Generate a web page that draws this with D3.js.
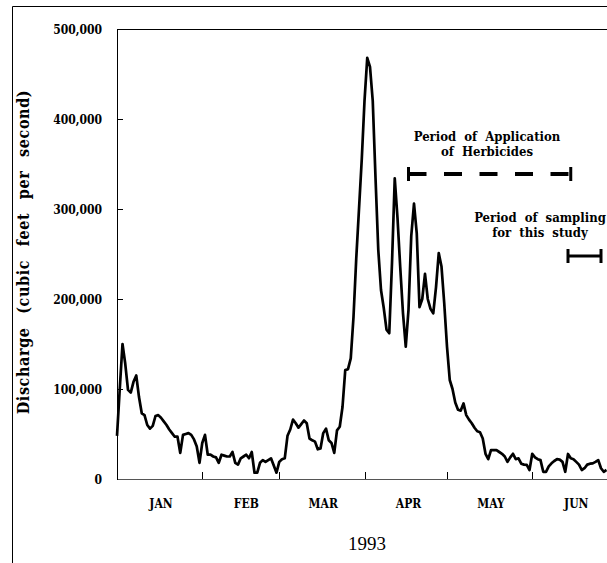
<!DOCTYPE html>
<html>
    <head>
        <meta charset="utf-8">
        <title>Discharge 1993</title>
        <script src="https://d3js.org/d3.v7.min.js"></script>
        <style>
            body { margin: 0; background: #fff; }
            text { font-family: "Liberation Serif", "Times New Roman", serif; fill: #000; }
            text.bold { font-family: "DejaVu Serif", serif; font-stretch: condensed; font-weight: bold; }
            .flow { fill: none; stroke: #000; stroke-width: 2.7px; stroke-linejoin: round; }
            .axis path, .axis line { stroke: #000; shape-rendering: crispEdges; }
            .xaxis path { stroke: #555; }
        </style>
    </head>
    <body>
        <script>
            // daily discharge, starting 1 Jan 1993 (cubic feet per second)
            const startDay = new Date(1993, 0, 1);
            const flow = [
                48000, 100000, 150000, 128000, 99000, 96000, 108000, 115000, 91000, 73000,
                71000, 60000, 56000, 59000, 70000, 71000, 68000, 64000, 60000, 55000,
                51000, 47000, 47000, 29000, 49000, 50000, 51000, 49000, 44000, 36000,
                18000, 40000, 49000, 27000, 27000, 25000, 24000, 18000, 27000, 26000,
                25000, 25000, 30000, 18000, 16000, 23000, 25000, 27000, 23000, 30000,
                7000, 7000, 18000, 21000, 19000, 21000, 23000, 15000, 7000, 19000,
                22000, 23000, 48000, 55000, 66000, 62000, 57000, 61000, 65000, 62000,
                45000, 43000, 41500, 33000, 34000, 51000, 56000, 43000, 40000, 29000,
                54000, 58000, 80000, 121000, 122000, 134000, 180000, 245000, 300000, 355000,
                420000, 468000, 458000, 420000, 335000, 255000, 210000, 190000, 166000, 162000,
                240000, 334000, 290000, 235000, 184000, 147000, 188000, 270000, 306000, 273000,
                191000, 200000, 228000, 200000, 189000, 184000, 213000, 251000, 236000, 195000,
                147000, 110000, 100000, 85000, 77000, 76000, 84000, 71000, 66000, 62000,
                57000, 53000, 52000, 45000, 28000, 22000, 32000, 32000, 32000, 30000,
                28000, 25000, 19000, 24000, 28000, 22000, 23000, 17000, 16000, 15600,
                10000, 28000, 24000, 22000, 21000, 8000, 8000, 14000, 17400, 20000,
                22000, 21500, 19000, 8000, 27800, 23000, 22000, 19000, 16000, 10000,
                12000, 16000, 17000, 17400, 19000, 21000, 12000, 8000, 10000
            ];
            const yTicks = [0, 100000, 200000, 300000, 400000, 500000];
            const monthLabels = ["JAN", "FEB", "MAR", "APR", "MAY", "JUN"];
            const yearLabel = "1993";
            const yTitle = "Discharge (cubic feet per second)";
            const herbicidePeriod = [new Date(1993, 3, 17), new Date(1993, 5, 15)];
            const samplingPeriod = [new Date(1993, 5, 14), new Date(1993, 5, 26)];

            var width = 607;
            var height = 563;

            var svg = d3.select("body").append("svg")
                .attr("width", width)
                .attr("height", height);

            // outer frame (left and top edges)
            svg.append("path")
                .attr("d", "M12.5,563 V6.5 H607")
                .attr("fill", "none")
                .attr("stroke", "#000")
                .attr("stroke-width", 1);

            let xScale = d3.scaleTime()
                .domain([startDay, new Date(1993, 6, 1)])
                .range([117, 614.75]);
            let yScale = d3.scaleLinear()
                .domain([0, 500000])
                .range([479, 29]);

            var plot = svg.append("g");

            // top edge of the plot box
            plot.append("line")
                .attr("x1", 117).attr("x2", width)
                .attr("y1", yScale(500000) + 0.5).attr("y2", yScale(500000) + 0.5)
                .attr("stroke", "#000");

            // y axis, ticks pointing into the plot
            var yAxis = plot.append("g")
                .attr("class", "axis")
                .attr("transform", "translate(117,0)")
                .call(d3.axisLeft(yScale)
                    .tickValues(yTicks)
                    .tickSizeInner(-6)
                    .tickSizeOuter(0)
                    .tickPadding(15)
                    .tickFormat(d3.format(",")));
            yAxis.selectAll("text")
                .attr("class", "bold")
                .style("font-size", "12px")
                .attr("dy", "0.4em");

            // x axis, month ticks pointing up
            var months = d3.timeMonth.range(new Date(1993, 1, 1), new Date(1993, 6, 1));
            plot.append("g")
                .attr("class", "axis xaxis")
                .attr("transform", "translate(0,479)")
                .call(d3.axisBottom(xScale)
                    .tickValues(months)
                    .tickSizeInner(-7)
                    .tickSizeOuter(0)
                    .tickFormat(""));

            plot.selectAll(".month")
                .data(monthLabels)
                .enter().append("text")
                .attr("class", "month bold")
                .attr("x", function (d, i) { return xScale(new Date(1993, i, 17)); })
                .attr("y", 508)
                .attr("text-anchor", "middle")
                .style("font-size", "12px")
                .text(function (d) { return d; });

            svg.append("text")
                .attr("x", 367)
                .attr("y", 550)
                .attr("text-anchor", "middle")
                .style("font-size", "19px")
                .text(yearLabel);

            svg.append("text")
                .attr("class", "bold")
                .attr("transform", "translate(29,252) rotate(-90)")
                .attr("text-anchor", "middle")
                .style("font-size", "16px")
                .style("letter-spacing", "0.6px")
                .style("word-spacing", "8px")
                .text(yTitle);

            // discharge line
            var line = d3.line()
                .x(function (d, i) { return xScale(d3.timeDay.offset(startDay, i)); })
                .y(function (d) { return yScale(d); });

            svg.append("clipPath").attr("id", "clip")
                .append("rect").attr("x", 110).attr("y", 0).attr("width", 497).attr("height", 490);

            plot.append("path")
                .datum(flow)
                .attr("class", "flow")
                .attr("clip-path", "url(#clip)")
                .attr("d", line);

            // period annotations
            function periodBar(period, y, dashed) {
                var x0 = xScale(period[0]), x1 = xScale(period[1]);
                var g = svg.append("g").attr("stroke", "#000");
                g.append("line")
                    .attr("x1", x0).attr("x2", x1).attr("y1", y).attr("y2", y)
                    .attr("stroke-width", dashed ? 4 : 3)
                    .attr("stroke-dasharray", dashed ? "18,17.5" : null);
                g.selectAll(".cap").data([x0, x1]).enter().append("line")
                    .attr("x1", function (d) { return d; })
                    .attr("x2", function (d) { return d; })
                    .attr("y1", y - 7).attr("y2", y + 7)
                    .attr("stroke-width", 3);
            }

            function note(lines, x, y) {
                svg.append("text")
                    .attr("class", "bold")
                    .attr("text-anchor", "middle")
                    .style("font-size", "13px")
                    .style("word-spacing", "4px")
                    .selectAll("tspan").data(lines).enter().append("tspan")
                    .attr("x", x)
                    .attr("y", function (d, i) { return y + i * 15; })
                    .text(function (d) { return d; });
            }

            periodBar(herbicidePeriod, 174, true);
            periodBar(samplingPeriod, 256, false);
            note(["Period of Application", "of Herbicides"], 487, 141);
            note(["Period of sampling", "for this study"], 540, 222);
        </script>
    </body>
</html>
